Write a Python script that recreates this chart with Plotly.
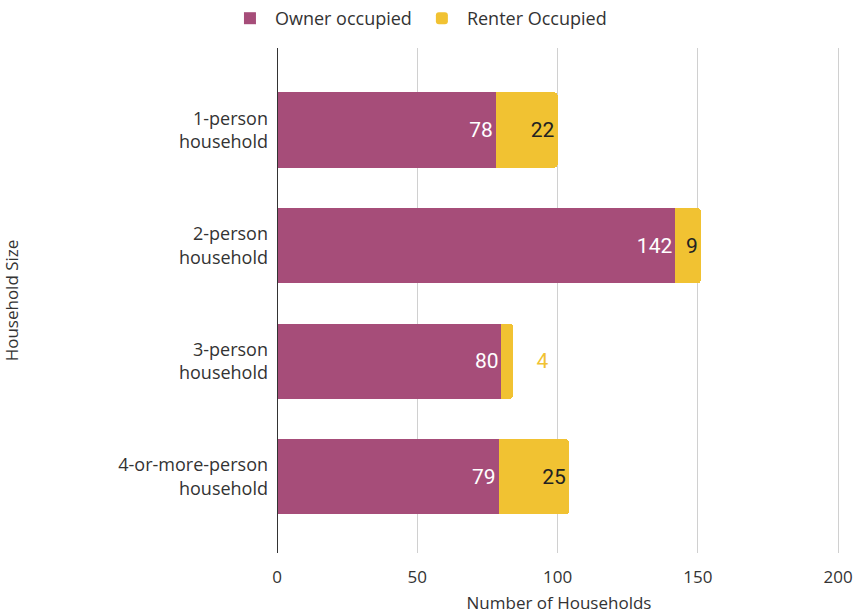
import plotly.graph_objects as go

categories = ["1-person<br>household", "2-person<br>household", "3-person<br>household", "4-or-more-person<br>household"]
owner = [78, 142, 80, 79]
renter = [22, 9, 4, 25]
x_ticks = [0, 50, 100, 150, 200]

OWNER_C = "#A64D79"
RENTER_C = "#F1C232"

fig = go.Figure()
fig.add_trace(go.Bar(
    y=categories, x=owner, orientation="h", name="Owner occupied",
    marker=dict(color=OWNER_C, line=dict(width=0)),
    text=[str(v) for v in owner], textposition="inside", insidetextanchor="end",
    textfont=dict(family="Roboto", size=21, color="white"), textangle=0,
))
renter_pos = ["inside" if v >= 8 else "outside" for v in renter]
renter_col = ["#222222" if v >= 8 else RENTER_C for v in renter]
fig.add_trace(go.Bar(
    y=categories, x=renter, orientation="h", name="Renter Occupied",
    marker=dict(color=RENTER_C, line=dict(width=0), cornerradius=3),
    text=[str(v) if v >= 8 else "    " + str(v) for v in renter], textposition=renter_pos, insidetextanchor="end",
    textfont=dict(family="Roboto", size=21, color=renter_col), textangle=0, cliponaxis=False,
))

fig.update_layout(
    width=854, height=614,
    barmode="stack", bargap=0.35,
    plot_bgcolor="white", paper_bgcolor="white",
    margin=dict(l=277, r=13, t=48, b=61),
    font=dict(family="Open Sans", size=18, color="#333333"),
    uniformtext=dict(mode=False),
    legend=dict(orientation="h", x=0.49, xref="container", xanchor="center", y=1.0, yref="container", yanchor="top",
                font=dict(size=18, color="#333333"), itemsizing="constant", traceorder="normal", itemwidth=40),
    xaxis=dict(range=[0, 201], tickvals=x_ticks, ticktext=[str(v) for v in x_ticks], showgrid=True, gridcolor="#d0d0d0", gridwidth=1,
               zeroline=False, showline=False, ticks="", automargin=False, ticklabelstandoff=12,
               title=dict(text="Number of Households", standoff=10, font=dict(size=17)),
               tickfont=dict(size=17, color="#333333")),
    yaxis=dict(categoryorder="array", categoryarray=categories, range=[3.66, -0.71], showgrid=False, zeroline=False,
               showline=False, ticks="", ticklabelstandoff=8, automargin=False,
               title=dict(text="Household Size", standoff=104, font=dict(size=17)), tickfont=dict(size=18, color="#333333")),
)
fig.add_shape(type="line", xref="x", yref="paper", x0=0, x1=0, y0=0, y1=1, line=dict(color="#333333", width=2))

fig.write_html("out.html", config={"displayModeBar": False},
               post_script="document.body.style.margin='0';document.body.style.overflow='hidden';")
